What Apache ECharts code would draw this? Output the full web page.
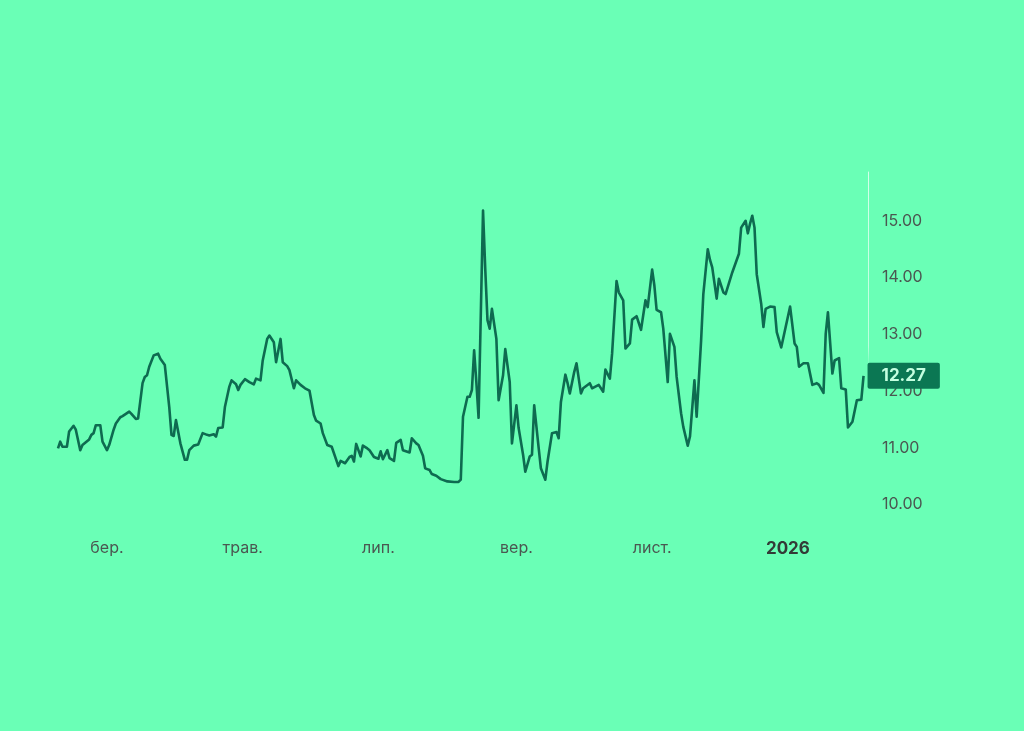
<!DOCTYPE html>
<html>
<head>
<meta charset="utf-8">
<title>Графік ціни</title>
<script src="https://cdn.jsdelivr.net/npm/echarts@6/dist/echarts.min.js"></script>
<style>
  html, body { margin: 0; padding: 0; background: #6affb6; }
  #chart { width: 1024px; height: 731px; }
</style>
</head>
<body>
<div id="chart"></div>
<script>
// Data: day number counted from 7 Feb 2025, and the price on that day
const START = '2025-02-07'
const DAYS = [
  0, 1, 2, 4, 5, 7, 8, 10, 11, 14,
  15, 16, 17, 19, 20, 22, 23, 25, 26, 28,
  29, 32, 33, 35, 36, 38, 39, 40, 41, 43,
  45, 46, 48, 50, 51, 52, 53, 55, 57, 58,
  59, 61, 63, 65, 67, 68, 70, 71, 72, 74,
  75, 77, 78, 80, 81, 82, 84, 86, 88, 89,
  91, 92, 94, 95, 97, 98, 100, 101, 103, 104,
  106, 107, 109, 111, 113, 115, 116, 118, 119, 121,
  123, 126, 127, 129, 131, 132, 133, 134, 136, 137,
  139, 140, 142, 144, 145, 146, 148, 149, 151, 152,
  154, 155, 158, 159, 161, 162, 164, 165, 167, 168,
  170, 172, 175, 178, 180, 181, 182, 184, 185, 186,
  187, 188, 189, 191, 192, 193, 194, 195, 197, 198,
  200, 201, 203, 204, 206, 207, 209, 210, 212, 213,
  214, 216, 217, 219, 220, 222, 224, 225, 226, 228,
  229, 230, 232, 233, 235, 236, 239, 240, 243, 245,
  246, 248, 249, 251, 252, 254, 255, 257, 258, 260,
  261, 262, 264, 265, 267, 268, 269, 271, 272, 274,
  275, 277, 278, 280, 281, 283, 284, 286, 287, 289,
  290, 292, 293, 294, 296, 297, 299, 300, 303, 306,
  307, 309, 310, 311, 312, 313, 314, 315, 316, 317,
  318, 320, 322, 323, 325, 327, 329, 331, 332, 333,
  335, 337, 339, 341, 342, 344, 345, 346, 348, 349,
  351, 352, 354, 355, 357, 359, 361, 362
]
const PRICES = [
  10.99, 11.11, 11.02, 11.02, 11.29, 11.39, 11.32, 10.96, 11.05, 11.15,
  11.23, 11.26, 11.40, 11.40, 11.11, 10.96, 11.05, 11.32, 11.43, 11.54,
  11.56, 11.64, 11.60, 11.51, 11.52, 12.14, 12.25, 12.28, 12.43, 12.63,
  12.66, 12.57, 12.46, 11.72, 11.23, 11.21, 11.49, 11.08, 10.79, 10.79,
  10.96, 11.04, 11.06, 11.26, 11.23, 11.22, 11.24, 11.20, 11.35, 11.36,
  11.72, 12.08, 12.19, 12.12, 12.02, 12.11, 12.21, 12.16, 12.12, 12.22,
  12.19, 12.54, 12.92, 12.98, 12.86, 12.51, 12.92, 12.51, 12.44, 12.37,
  12.05, 12.19, 12.11, 12.05, 12.01, 11.58, 11.48, 11.43, 11.26, 11.05,
  11.02, 10.68, 10.77, 10.73, 10.84, 10.86, 10.76, 11.07, 10.85, 11.04,
  10.99, 10.96, 10.84, 10.81, 10.94, 10.80, 10.96, 10.82, 10.77, 11.09,
  11.14, 10.96, 10.92, 11.17, 11.08, 11.05, 10.86, 10.64, 10.61, 10.54,
  10.51, 10.45, 10.41, 10.40, 10.40, 10.44, 11.55, 11.90, 11.90, 12.02,
  12.72, 12.16, 11.53, 15.18, 14.15, 13.25, 13.10, 13.45, 12.92, 11.84,
  12.28, 12.74, 12.16, 11.08, 11.75, 11.35, 10.88, 10.58, 10.85, 10.88,
  11.75, 11.00, 10.64, 10.44, 10.76, 11.26, 11.28, 11.17, 11.81, 12.29,
  12.14, 11.96, 12.34, 12.49, 11.96, 12.05, 12.14, 12.05, 12.11, 11.99,
  12.38, 12.22, 12.66, 13.94, 13.74, 13.60, 12.75, 12.84, 13.26, 13.32,
  13.20, 13.08, 13.60, 13.48, 14.14, 13.86, 13.43, 13.39, 13.10, 12.16,
  13.01, 12.78, 12.25, 11.61, 11.37, 11.04, 11.20, 12.19, 11.55, 12.89,
  13.71, 14.50, 14.31, 14.18, 13.63, 13.98, 13.74, 13.71, 14.09, 14.42,
  14.88, 15.00, 14.78, 14.95, 15.09, 14.88, 14.06, 13.80, 13.54, 13.13,
  13.45, 13.49, 13.48, 13.04, 12.77, 13.13, 13.49, 12.84, 12.78, 12.43,
  12.49, 12.49, 12.11, 12.14, 12.11, 11.97, 13.01, 13.39, 12.31, 12.54,
  12.58, 12.05, 12.03, 11.36, 11.46, 11.84, 11.85, 12.27
]

// Tick labels
const X_TICKS = ['2025-03-01', '2025-05-01', '2025-07-01', '2025-09-01', '2025-11-01', '2026-01-01']
const X_LABELS = ['бер.', 'трав.', 'лип.', 'вер.', 'лист.', '2026']
const Y_TICKS = [10, 11, 12, 13, 14, 15]
const LAST_DAY = 364

const FONT = 'Inter, Roboto, sans-serif'

// days between START and a date string
const utc = (s) => {
    const p = s.split('-').map(Number)
    return Date.UTC(p[0], p[1] - 1, p[2])
}
const dayOf = (s) => Math.round((utc(s) - utc(START)) / 86400000)
const tickDays = X_TICKS.map(dayOf)
const seriesData = DAYS.map((d, i) => [d, PRICES[i]])

var chartDom = document.getElementById('chart')
var myChart = echarts.init(chartDom)

var option = {
    backgroundColor: '#6affb6',
    animation: false,
    grid: {
        left: 58,
        right: 156,
        top: 172,
        bottom: 211
    },
    xAxis: {
        type: 'value',
        min: 0,
        max: LAST_DAY,
        axisLine: { show: false },
        axisTick: { show: false },
        splitLine: { show: false },
        axisLabel: {
            customValues: tickDays,
            margin: 20,
            color: '#4b5751',
            fontSize: 16,
            fontFamily: FONT,
            formatter: function (value) {
                var idx = tickDays.indexOf(value)
                if (idx < 0) return ''
                if (X_LABELS[idx] === '2026') return '{yr|' + X_LABELS[idx] + '}'
                return X_LABELS[idx]
            },
            rich: {
                yr: { fontWeight: 'bold', color: '#333b37', fontSize: 17, fontFamily: FONT }
            }
        }
    },
    yAxis: {
        type: 'value',
        position: 'right',
        min: 9.73,
        max: 15.86,
        axisLine: {
            show: true,
            onZero: false,
            lineStyle: {
                width: 1,
                color: new echarts.graphic.LinearGradient(0, 0, 0, 1, [
                    { offset: 0, color: 'rgba(225,255,240,0.9)' },
                    { offset: 0.5, color: 'rgba(225,255,240,0.7)' },
                    { offset: 0.56, color: 'rgba(225,255,240,0)' },
                    { offset: 1, color: 'rgba(225,255,240,0)' }
                ])
            }
        },
        axisTick: { show: false },
        splitLine: { show: false },
        axisLabel: {
            customValues: Y_TICKS,
            margin: 14,
            color: '#4b5751',
            fontSize: 16,
            fontFamily: FONT,
            formatter: (v) => v.toFixed(2)
        }
    },
    series: [{
        type: 'line',
        data: seriesData,
        showSymbol: false,
        symbol: 'none',
        lineStyle: { color: '#0e6b50', width: 2.6, join: 'round' },
        endLabel: {
            show: true,
            distance: 4,
            formatter: (p) => p.value[1].toFixed(2),
            backgroundColor: '#0b7753',
            color: '#c4ffe0',
            fontWeight: 'bold',
            fontSize: 17,
            fontFamily: FONT,
            borderRadius: 2,
            padding: [5, 14, 4, 14]
        },
        z: 5
    }]
}

myChart.setOption(option)
</script>
</body>
</html>
